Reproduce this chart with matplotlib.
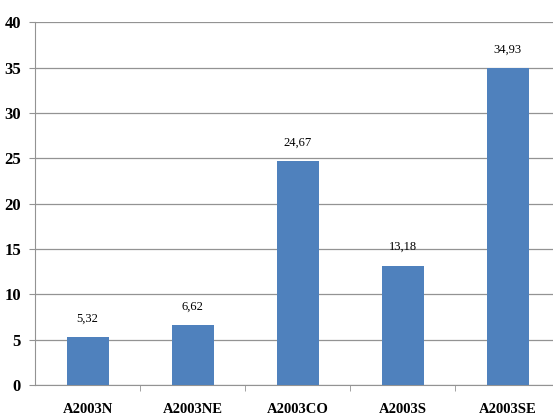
import matplotlib.pyplot as plt
import numpy as np

# dados
regioes = ['A2003N', 'A2003NE', 'A2003CO', 'A2003S', 'A2003SE']
valores = [5.32, 6.62, 24.67, 13.18, 34.93]
rotulos = ['5,32', '6,62', '24,67', '13,18', '34,93']

plt.rcParams['font.family'] = ['Liberation Serif', 'DejaVu Serif']

fig = plt.figure(figsize=(5.53, 4.2), dpi=100)
ax = fig.add_axes([35 / 553, 35 / 420, 525 / 553, 362.5 / 420])

x = np.arange(len(regioes))
barras = ax.bar(x, valores, width=0.4, color='#4F81BD', zorder=3)

for xi, v, r in zip(x, valores, rotulos):
    ax.annotate(r, (xi, v), xytext=(0, 9), textcoords='offset points',
                ha='center', va='bottom', fontsize=9)

ax.set_xlim(-0.5, len(regioes) - 0.5)
ax.set_ylim(0, 40)
ax.set_yticks(np.arange(0, 41, 5))
ax.yaxis.grid(True, color='#939393', linewidth=0.9, zorder=0)

ax.set_xticks(x)
ax.set_xticklabels(regioes, fontsize=10.5, fontweight='bold')
ax.set_xticks(np.arange(0.5, len(regioes) - 0.5, 1), minor=True)
ax.tick_params(axis='x', which='major', length=0, pad=13)
ax.tick_params(axis='x', which='minor', length=4, color='#939393')
ax.tick_params(axis='y', length=4, color='#939393', pad=6)
for lbl in ax.get_yticklabels():
    lbl.set_fontsize(12)
    lbl.set_fontweight('bold')

for lado in ['top', 'right']:
    ax.spines[lado].set_visible(False)
for lado in ['left', 'bottom']:
    ax.spines[lado].set_color('#939393')

fig.savefig('out.png', dpi=100)
